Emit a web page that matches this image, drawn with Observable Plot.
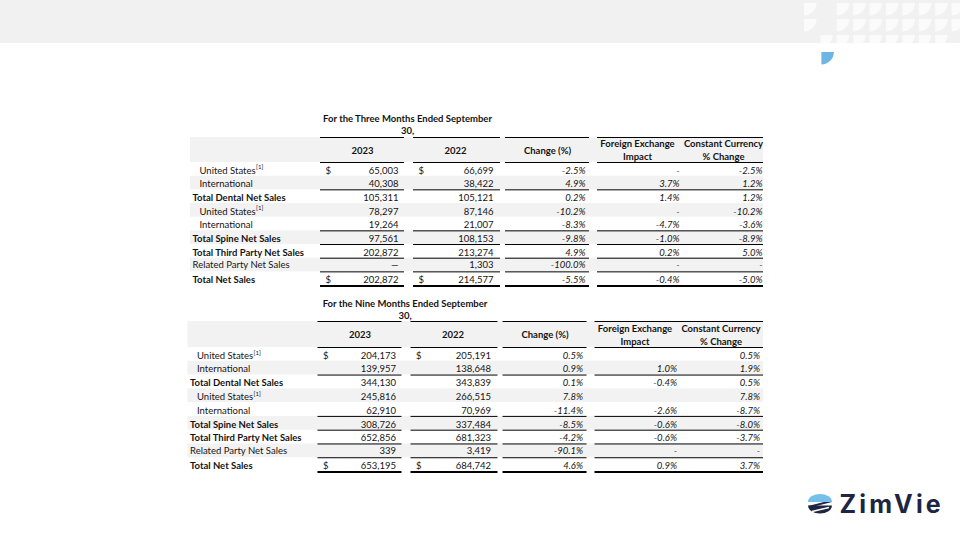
<!DOCTYPE html>
<html><head><meta charset="utf-8">
<script src="https://cdn.jsdelivr.net/npm/d3@7"></script>
<script src="https://cdn.jsdelivr.net/npm/@observablehq/plot@0.6"></script>
<style>
html,body{margin:0;padding:0;background:#fff;}
#chart{width:960px;height:540px;overflow:hidden;}
</style></head><body><div id="chart"></div>
<script>
// ---------- data ----------
const rowLabels = ["United States", "International", "Total Dental Net Sales", "United States", "International",
  "Total Spine Net Sales", "Total Third Party Net Sales", "Related Party Net Sales", "Total Net Sales"];
const rowLevel = [1, 1, 0, 1, 1, 0, 0, 0, 0];
const rowNote = ["[1]", "", "", "[1]", "", "", "", "", ""];
const years = ["2023", "2022"];
const columnHeads = [["Change (%)"], ["Foreign Exchange", "Impact"], ["Constant Currency", "% Change"]];
const periodTitles = [["For the Three Months Ended September", "30,"], ["For the Nine Months Ended September", "30,"]];

// null = dash, undefined = blank
const q3Sales2023 = [65003, 40308, 105311, 78297, 19264, 97561, 202872, null, 202872];
const q3Sales2022 = [66699, 38422, 105121, 87146, 21007, 108153, 213274, 1303, 214577];
const q3Change = [-2.5, 4.9, 0.2, -10.2, -8.3, -9.8, 4.9, -100.0, -5.5];
const q3FxImpact = [null, 3.7, 1.4, null, -4.7, -1.0, 0.2, null, -0.4];
const q3ConstCurrency = [-2.5, 1.2, 1.2, -10.2, -3.6, -8.9, 5.0, null, -5.0];

const ytdSales2023 = [204173, 139957, 344130, 245816, 62910, 308726, 652856, 339, 653195];
const ytdSales2022 = [205191, 138648, 343839, 266515, 70969, 337484, 681323, 3419, 684742];
const ytdChange = [0.5, 0.9, 0.1, 7.8, -11.4, -8.5, -4.2, -90.1, 4.6];
const ytdFxImpact = [undefined, 1.0, -0.4, undefined, -2.6, -0.6, -0.6, null, 0.9];
const ytdConstCurrency = [0.5, 1.9, 0.5, 7.8, -8.7, -8.0, -3.7, null, 3.7];

const brandName = "ZimVie";

// ---------- layout ----------
const FONT = "Lato, 'Open Sans', sans-serif";
const FS = 9.5;
const TEXT = "#141414";
const BAND = "#f2f2f2";
const L = {
  bandX1: 190, bandX2: 763, subX: 199, totX: 192, titleX: 407,
  groups: [[320, 404], [413, 500], [505, 589], [597, 763]],
  dollarX: [325, 418],
  numRight: [398, 493, 585, 679, 762],
  headCenter: [362, 455, 547, 637, 723]
};
const tables = [
  {title: periodTitles[0], cols: [q3Sales2023, q3Sales2022, q3Change, q3FxImpact, q3ConstCurrency],
   titleY: 118, bandTop: 137, headBottom: 162, pitch: 13.67, dx: 0},
  {title: periodTitles[1], cols: [ytdSales2023, ytdSales2022, ytdChange, ytdFxImpact, ytdConstCurrency],
   titleY: 303, bandTop: 321, headBottom: 347, pitch: 13.78, dx: -2.5}
];

const fmtSales = v => v === null ? "\u2014" : d3.format(",")(v);
const fmtPct = v => v === undefined ? "" : v === null ? "-" : v.toFixed(1) + "%";

const ctx = document.createElement("canvas").getContext("2d");
const textW = (s, weight, size) => { ctx.font = `${weight} ${size}px Lato`; return ctx.measureText(s).width; };

const bands = [], thinRules = [], thickRules = [];
const titleTexts = [], headTexts = [], boldLabels = [], normLabels = [], notes = [], dollars = [], nums = [], pcts = [];
const ruleAfter = [1, 4, 5, 6, 7];

tables.forEach(t => {
  const dx = t.dx;
  const rowY0 = i => t.headBottom + i * t.pitch;
  bands.push({x1: L.bandX1 + dx, x2: L.bandX2, y1: t.bandTop, y2: t.headBottom});
  rowLabels.forEach((lab, i) => { if (i % 2 === 1) bands.push({x1: L.bandX1 + dx, x2: L.bandX2, y1: rowY0(i), y2: rowY0(i + 1)}); });
  const ruleYs = [t.bandTop, t.headBottom, ...ruleAfter.map(i => rowY0(i + 1))];
  L.groups.forEach(([a, b]) => {
    const x2 = b + (b === 763 ? 0 : dx);
    ruleYs.forEach(y => thinRules.push({x1: a + dx, x2, y}));
    thickRules.push({x1: a + dx, x2, y: rowY0(rowLabels.length) + 0.5});
  });
  t.title.forEach((s, k) => titleTexts.push({x: L.titleX + dx, y: t.titleY + k * 12.5, text: s}));
  const hc = (t.bandTop + t.headBottom) / 2 + 0.5;
  years.forEach((yr, j) => headTexts.push({x: L.headCenter[j] + dx, y: hc, text: yr}));
  columnHeads.forEach((lines, j) => lines.forEach((s, k) =>
    headTexts.push({x: L.headCenter[j + 2] + dx, y: hc + (k - (lines.length - 1) / 2) * 13, text: s})));
  rowLabels.forEach((lab, i) => {
    const y = rowY0(i) + t.pitch / 2 + 1.2 - (lab.startsWith("Related") ? 1.5 : 0);
    const x = (rowLevel[i] ? L.subX : L.totX) + dx;
    const bold = rowLevel[i] === 0 && lab.startsWith("Total");
    (bold ? boldLabels : normLabels).push({x, y, text: lab});
    if (rowNote[i]) notes.push({x: x + textW(lab, bold ? 700 : 400, FS) + 0.5, y: y - 3, text: rowNote[i]});
    if (i === 0 || i === rowLabels.length - 1) years.forEach((yr, j) => dollars.push({x: L.dollarX[j] + dx, y, text: "$"}));
    t.cols.forEach((col, j) => {
      const v = col[i];
      if (j < 2) nums.push({x: L.numRight[j] + dx, y, text: fmtSales(v)});
      else pcts.push({x: L.numRight[j] + dx, y, text: fmtPct(v)});
    });
  });
});

// decoration pattern (top-right) and logo icon
const pattern = ["X.XXXXXXXX", "X.XXXXXXXX", ".XXXXXXXX."];
function decor(index, scales) {
  const X = scales.x, Y = scales.y;
  const g = d3.create("svg:g");
  g.append("rect").attr("x", X(0)).attr("y", Y(0)).attr("width", X(960) - X(0)).attr("height", Y(43) - Y(0)).attr("fill", "#f1f1f1");
  const s = 12.5;
  const quarter = (x, y) => `M${X(x)},${Y(y)}H${X(x + s)}A${s},${s} 0 0 1 ${X(x)},${Y(y + s)}Z`;
  const clip = g.append("clipPath").attr("id", "hdrclip");
  clip.append("rect").attr("x", 0).attr("y", 0).attr("width", X(960)).attr("height", Y(43));
  const pg = g.append("g").attr("clip-path", "url(#hdrclip)");
  pattern.forEach((row, r) => [...row].forEach((c, k) => {
    if (c === "X") pg.append("path").attr("d", quarter(804 + k * 16.4, 3 + r * 16)).attr("fill", "#fbfbfb");
  }));
  g.append("path").attr("d", quarter(821.4, 52)).attr("fill", "#6db6e4");
  // logo icon
  const cx = 820, cy = 503.5;
  g.append("path").attr("d", `M${X(cx - 12)},${Y(cy - 1.5)}A12,8 0 0 1 ${X(cx + 12)},${Y(cy - 1.5)}Z`).attr("fill", "#74c0ea");
  g.append("path").attr("d", `M${X(cx - 12)},${Y(cy + 2)}H${X(cx + 12)}A12,8 0 0 1 ${X(cx - 12)},${Y(cy + 2)}Z`).attr("fill", "#1c2541");
  g.append("path").attr("d", `M${X(cx + 4)},${Y(cy - 1.5)}H${X(cx + 12)}L${X(cx - 4)},${Y(cy + 2.5)}H${X(cx - 12)}Z`).attr("fill", "#1c2541");
  g.append("line").attr("x1", X(cx - 8)).attr("y1", Y(cy + 8)).attr("x2", X(cx + 9)).attr("y2", Y(cy + 4)).attr("stroke", "#fff").attr("stroke-width", 1.6);
  return g.node();
}

const txt = (data, opts) => Plot.text(data, {x: "x", y: "y", text: "text", fill: TEXT, fontSize: FS, fontFamily: FONT, ...opts});

const chart = Plot.plot({
  width: 960, height: 540, margin: 0,
  x: {domain: [0, 960], range: [0, 960], axis: null},
  y: {domain: [0, 540], range: [0, 540], axis: null},
  style: {fontFamily: FONT, background: "#fff", color: TEXT},
  marks: [
    decor,
    Plot.rect(bands, {x1: "x1", x2: "x2", y1: "y1", y2: "y2", fill: BAND}),
    Plot.ruleY(thinRules, {y: "y", x1: "x1", x2: "x2", stroke: "#000", strokeWidth: 1}),
    Plot.ruleY(thickRules, {y: "y", x1: "x1", x2: "x2", stroke: "#000", strokeWidth: 2}),
    txt(titleTexts, {fontWeight: 700}),
    txt(headTexts, {fontWeight: 700}),
    txt(boldLabels, {fontWeight: 700, textAnchor: "start"}),
    txt(normLabels, {textAnchor: "start"}),
    txt(notes, {textAnchor: "start", fontSize: 6}),
    txt(dollars, {textAnchor: "start"}),
    txt(nums, {textAnchor: "end"}),
    txt(pcts, {textAnchor: "end", fontStyle: "italic"}),
    Plot.text([brandName], {x: () => 839, y: () => 504, text: d => d, textAnchor: "start", fontSize: 25, fontWeight: 700,
      fontFamily: "Inter, sans-serif", fill: "#1c2541"})
  ]
});
d3.select(chart).selectAll("text").filter(function() { return this.textContent === brandName; }).attr("letter-spacing", "3.2px");
document.getElementById("chart").appendChild(chart);
</script></body></html>
